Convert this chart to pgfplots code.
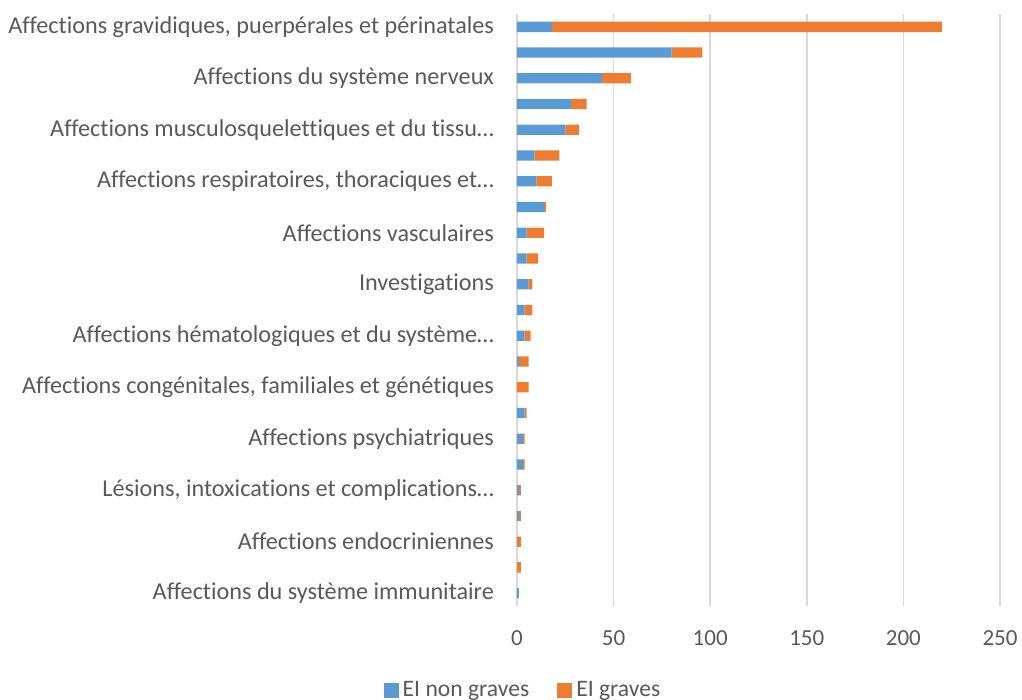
\documentclass[border=0pt]{standalone}
\usepackage{fontspec}
\setmainfont{Carlito}[Ligatures=NoCommon]
\usepackage{pgfplots}
\pgfplotsset{compat=1.18}
\usepackage{pgfplotstable}
\definecolor{cblue}{HTML}{5B9BD5}
\definecolor{corange}{HTML}{ED7D31}
\definecolor{ctext}{HTML}{595959}
\definecolor{cgrid}{HTML}{D9D9D9}
\pgfplotstableread{
idx nongrave grave
0 1 0
1 0 2
2 0 2
3 1 1
4 1 1
5 3 1
6 3 1
7 4 1
8 0 6
9 1 5
10 4 3
11 4 4
12 6 2
13 5 6
14 5 9
15 14 1
16 10 8
17 9 13
18 25 7
19 28 8
20 44 15
21 80 16
22 18 202
}\datatable
\begin{document}
\fontsize{11.5}{14}\selectfont
\begin{tikzpicture}
\useasboundingbox (-258.5pt,-47pt) rectangle (252.5pt,303pt);
\begin{axis}[
  anchor=south west, at={(0,0)},
  width=241.5pt, height=296pt, scale only axis,
  xbar stacked, bar width=5.15pt,
  xmin=0, xmax=250, ymin=-0.5, ymax=22.5,
  xtick={0,50,...,250},
  ytick={0,...,22},
  yticklabels={Affections du système immunitaire,,Affections endocriniennes,,{Lésions, intoxications et complications…},,Affections psychiatriques,,{Affections congénitales, familiales et génétiques},,Affections hématologiques et du système…,,Investigations,,Affections vasculaires,,{Affections respiratoires, thoraciques et…},,Affections musculosquelettiques et du tissu…,,Affections du système nerveux,,{Affections gravidiques, puerpérales et périnatales}},
  axis line style={draw=none},
  major tick length=0pt,
  xmajorgrids, major grid style={cgrid, line width=0.75pt},
  ticklabel style={text=ctext},
  xticklabel style={font=\fontsize{11.5}{14}\selectfont, yshift=-8.5pt},
  yticklabel style={font=\fontsize{12.1}{14}\selectfont, xshift=-7.5pt},
  /pgf/number format/assume math mode=true,
  legend style={at={(axis description cs:0.0145,-0.143)}, anchor=center, draw=none, legend columns=2, font=\fontsize{11.8}{14}\selectfont, text=ctext, /tikz/every even column/.append style={column sep=12pt}},
  legend image code/.code={\fill[#1] (0pt,-3.75pt) rectangle (7.5pt,3.75pt);},
]
\addplot[fill=cblue, draw=none] table[x=nongrave, y=idx] {\datatable};
\addplot[fill=corange, draw=none] table[x=grave, y=idx] {\datatable};
\legend{EI non graves, EI graves}
\end{axis}
\end{tikzpicture}
\end{document}
